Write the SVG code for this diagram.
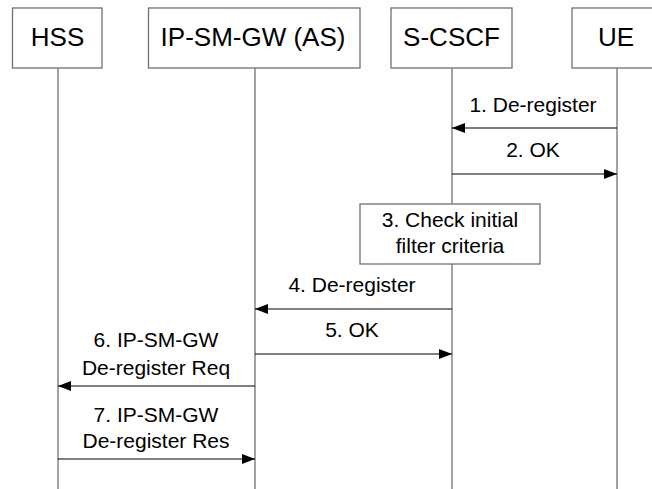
<svg xmlns="http://www.w3.org/2000/svg" width="652" height="489" viewBox="0 0 652 489">
<defs>
<marker id="ah" viewBox="0 0 13 10" refX="13" refY="5" markerWidth="13" markerHeight="10" markerUnits="userSpaceOnUse" orient="auto">
<path d="M0,0 L13,5 L0,10 Z" fill="#000"/>
</marker>
</defs>
<style>
.box{fill:#fff;stroke:#707070;stroke-width:1.3}
.life{stroke:#707070;stroke-width:1.3;fill:none}
.msg{stroke:#000;stroke-width:1.2;fill:none;marker-end:url(#ah)}
.hdr{font-family:"Liberation Sans",Arial,sans-serif;font-size:26px;fill:#000;text-anchor:middle}
.lbl{font-family:"Liberation Sans",Arial,sans-serif;font-size:21px;fill:#000;text-anchor:middle}
</style>
<rect width="652" height="489" fill="#fff"/>
<g id="lifelines">
<line class="life" x1="58" y1="68" x2="58" y2="489"/>
<line class="life" x1="255" y1="68" x2="255" y2="489"/>
<line class="life" x1="452" y1="68" x2="452" y2="489"/>
<line class="life" x1="617" y1="68" x2="617" y2="489"/>
</g>
<g id="node-hss">
<rect class="box" x="12.5" y="8" width="89.5" height="60"/>
<text class="hdr" x="57.5" y="46">HSS</text>
</g>
<g id="node-ipsmgw">
<rect class="box" x="148.5" y="8" width="211.5" height="60"/>
<text class="hdr" x="253" y="46">IP-SM-GW (AS)</text>
</g>
<g id="node-scscf">
<rect class="box" x="391" y="8" width="121" height="60"/>
<text class="hdr" x="451.5" y="46">S-CSCF</text>
</g>
<g id="node-ue">
<rect class="box" x="572" y="8" width="90" height="60"/>
<text class="hdr" x="616" y="46">UE</text>
</g>
<g id="node-check">
<rect class="box" x="360" y="204" width="180" height="60"/>
<text class="lbl" x="450" y="227">3. Check initial</text>
<text class="lbl" x="450" y="253">filter criteria</text>
</g>
<g id="connectors">
<line class="msg" x1="617" y1="128" x2="452" y2="128"/>
<text class="lbl" x="533" y="112">1. De-register</text>
<line class="msg" x1="452" y1="174" x2="617" y2="174"/>
<text class="lbl" x="533" y="157">2. OK</text>
<line class="msg" x1="452" y1="309" x2="255" y2="309"/>
<text class="lbl" x="352" y="292">4. De-register</text>
<line class="msg" x1="255" y1="354" x2="452" y2="354"/>
<text class="lbl" x="352" y="337">5. OK</text>
<line class="msg" x1="255" y1="386" x2="58" y2="386"/>
<text class="lbl" x="156" y="347">6. IP-SM-GW</text>
<text class="lbl" x="156" y="375">De-register Req</text>
<line class="msg" x1="58" y1="459" x2="255" y2="459"/>
<text class="lbl" x="156" y="422">7. IP-SM-GW</text>
<text class="lbl" x="156" y="448">De-register Res</text>
</g>
</svg>
